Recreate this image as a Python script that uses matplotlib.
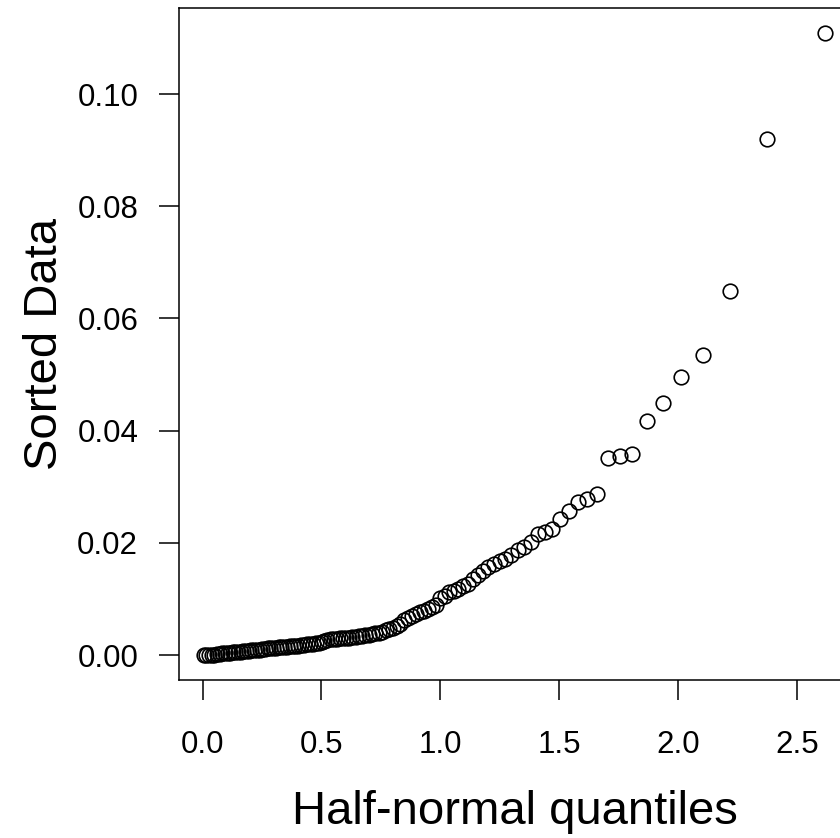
from statistics import NormalDist

import numpy as np
import matplotlib.pyplot as plt

plt.rcParams['font.family'] = ['Liberation Sans', 'DejaVu Sans']

# sorted data values (smallest to largest)
sorted_data = np.array([
    0.0000, 0.0000, 0.0001, 0.0001, 0.0001, 0.0002, 0.0002, 0.0003, 0.0003, 0.0004,
    0.0004, 0.0005, 0.0005, 0.0006, 0.0006, 0.0007, 0.0007, 0.0008, 0.0009, 0.0009,
    0.0010, 0.0010, 0.0011, 0.0011, 0.0012, 0.0012, 0.0013, 0.0013, 0.0014, 0.0014,
    0.0015, 0.0015, 0.0016, 0.0016, 0.0017, 0.0017, 0.0018, 0.0018, 0.0019, 0.0020,
    0.0020, 0.0021, 0.0022, 0.0024, 0.0026, 0.0027, 0.0028, 0.0029, 0.0029, 0.0030,
    0.0030, 0.0031, 0.0031, 0.0032, 0.0033, 0.0034, 0.0034, 0.0035, 0.0036, 0.0037,
    0.0039, 0.0040, 0.0042, 0.0044, 0.0046, 0.0049, 0.0052, 0.0056, 0.0062, 0.0066,
    0.0070, 0.0073, 0.0076, 0.0078, 0.0082, 0.0086, 0.0090, 0.0101, 0.0106, 0.0112,
    0.0114, 0.0118, 0.0123, 0.0127, 0.0135, 0.0142, 0.0150, 0.0157, 0.0163, 0.0167,
    0.0172, 0.0178, 0.0187, 0.0192, 0.0202, 0.0216, 0.0220, 0.0224, 0.0242, 0.0257,
    0.0273, 0.0279, 0.0287, 0.0351, 0.0355, 0.0358, 0.0417, 0.0449, 0.0496, 0.0535,
    0.0649, 0.0920, 0.1109,
])
x_ticks = [0.0, 0.5, 1.0, 1.5, 2.0, 2.5]
y_ticks = [0.00, 0.02, 0.04, 0.06, 0.08, 0.10]

# half-normal quantiles, as in faraway::halfnorm
n = len(sorted_data)
nd = NormalDist()
quantiles = np.array([nd.inv_cdf((n + i) / (2 * n + 1)) for i in range(1, n + 1)])

fig = plt.figure(figsize=(8.4, 8.38), dpi=100)
# the plot box runs a little past the right edge of the image
ax = fig.add_axes([179 / 840, 1 - 680 / 838, 671 / 840, 672 / 838])

ax.plot(quantiles, sorted_data, 'o', mfc='none', mec='black', ms=10.5, mew=1.2)

xr = quantiles.max() - quantiles.min()
yr = sorted_data.max() - sorted_data.min()
ax.set_xlim(quantiles.min() - 0.04 * xr, quantiles.max() + 0.04 * xr)
ax.set_ylim(sorted_data.min() - 0.04 * yr, sorted_data.max() + 0.04 * yr)

ax.set_xticks(x_ticks)
ax.set_xticklabels([f"{v:.1f}" for v in x_ticks])
ax.set_yticks(y_ticks)
ax.set_yticklabels([f"{v:.2f}" for v in y_ticks])

for s in ax.spines.values():
    s.set_linewidth(1.1)
ax.tick_params(axis='both', length=14.4, width=1.1, labelsize=22.5)
ax.tick_params(axis='x', pad=21.5)
ax.tick_params(axis='y', pad=15)

ax.set_xlabel("Half-normal quantiles", fontsize=34, labelpad=22)
ax.set_ylabel("Sorted Data", fontsize=34, labelpad=7)

fig.savefig("out.png", dpi=100)
